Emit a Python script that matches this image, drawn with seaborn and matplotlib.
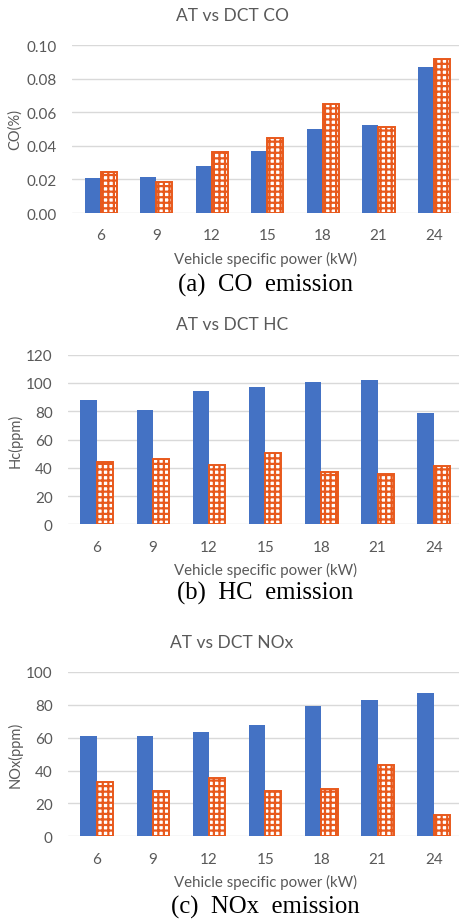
import pandas as pd
import seaborn as sns
import matplotlib.pyplot as plt

# data
power = ["6", "9", "12", "15", "18", "21", "24"]
co_at = [0.0207, 0.0212, 0.0282, 0.0371, 0.0500, 0.0524, 0.0869]
co_dct = [0.0242, 0.0186, 0.0361, 0.0448, 0.0649, 0.0510, 0.0917]
hc_at = [88.2, 81.1, 94.1, 96.9, 100.4, 101.9, 78.8]
hc_dct = [43.9, 46.0, 42.0, 50.5, 36.8, 35.4, 41.0]
nox_at = [61.0, 61.0, 63.5, 67.9, 79.1, 82.9, 87.2]
nox_dct = [32.9, 27.4, 35.3, 27.4, 28.6, 43.4, 13.2]

titles = ["AT vs DCT CO", "AT vs DCT HC", "AT vs DCT NOx"]
ylabels = ["CO(%)", "Hc(ppm)", "NOx(ppm)"]
captions = ["(a)  CO  emission", "(b)  HC  emission", "(c)  NOx  emission"]
yticks = [[0, 0.02, 0.04, 0.06, 0.08, 0.10], list(range(0, 121, 20)), list(range(0, 101, 20))]
yfmt = ["{:.2f}", "{:.0f}", "{:.0f}"]

blue = "#4472C4"
orange = "#E8591C"
txt = "#595959"

sns.set_style("white")
plt.rcParams['font.family'] = ['Lato', 'DejaVu Sans']
plt.rcParams['hatch.linewidth'] = 1.6

W, H = 459, 920
fig = plt.figure(figsize=(W / 100, H / 100), dpi=100)

# axes boxes in pixels: left, top, bottom
boxes = [(72.3, 46, 214), (68, 355.7, 525.3), (68, 673, 837.3)]
title_y = [16, 325.5, 643.3]
xlab_y = [259, 570, 882.7]
cap_y = [285, 593, 907.7]
series = [(co_at, co_dct), (hc_at, hc_dct), (nox_at, nox_dct)]

for i, (at, dct) in enumerate(series):
    l, t, b = boxes[i]
    ax = fig.add_axes([l / W, 1 - b / H, 1 - l / W, (b - t) / H])
    df = pd.DataFrame({"power": power * 2, "val": at + dct,
                       "trans": ["AT"] * len(power) + ["DCT"] * len(power)})
    sns.barplot(data=df, x="power", y="val", hue="trans", palette=[blue, orange],
                width=0.58, legend=False, ax=ax, saturation=1)
    for bar in ax.containers[0]:
        bar.set_linewidth(0)
    for bar in ax.containers[1]:
        bar.set_facecolor("white")
        bar.set_edgecolor(orange)
        bar.set_hatch("+++")
        bar.set_linewidth(1.4)
    ax.set_xlim(-0.51, 6.45)
    ax.set_ylim(yticks[i][0], yticks[i][-1])
    ax.set_yticks(yticks[i])
    ax.set_yticklabels([yfmt[i].format(v) for v in yticks[i]])
    ax.yaxis.grid(True, color="#D9D9D9", lw=1.0)
    ax.set_axisbelow(True)
    for s in ax.spines.values():
        s.set_visible(False)
    ax.tick_params(length=0, labelsize=11, labelcolor=txt)
    ax.tick_params(axis="y", pad=11)
    ax.tick_params(axis="x", pad=11)
    ax.set_xlabel("")
    ax.set_ylabel("")
    fig.text(232 / W, 1 - title_y[i] / H, titles[i], ha="center", va="center",
             fontsize=12.5, color=txt)
    fig.text(266 / W, 1 - xlab_y[i] / H, "Vehicle specific power (kW)", ha="center",
             va="center", fontsize=10.8, color=txt)
    fig.text(15 / W, 1 - (t + b) / 2 / H, ylabels[i], ha="center", va="center",
             rotation=90, fontsize=10.5, color=txt)
    fig.text(265 / W, 1 - cap_y[i] / H, captions[i], ha="center", va="center",
             fontsize=17.8, color="black", family="Liberation Serif")

fig.savefig("out.png", dpi=100)
